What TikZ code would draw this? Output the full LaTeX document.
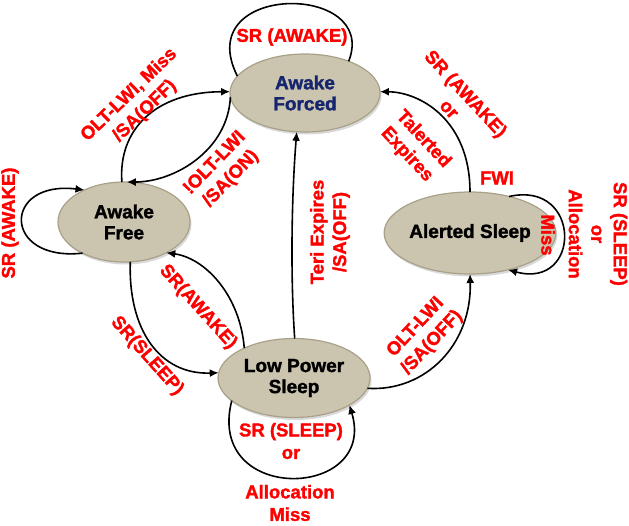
\documentclass[tikz,border=0pt]{standalone}
\usepackage{fontspec}
\setmainfont{Liberation Sans}[BoldFeatures={FakeBold=1.6}]
\usetikzlibrary{arrows.meta,shapes.geometric,shadows}
\definecolor{stf}{RGB}{203,197,175}
\definecolor{stb}{RGB}{168,160,136}
\definecolor{nvy}{RGB}{22,38,110}
\definecolor{lbl}{RGB}{255,0,0}

\begin{document}
\begin{tikzpicture}[x=1pt,y=1pt,
  state/.style={ellipse,draw=stb,line width=1.2pt,fill=stf,
    inner sep=0pt,outer sep=0pt,align=center,font=\fontsize{19}{21}\selectfont\bfseries,
    drop shadow={opacity=0.3,shadow xshift=1.5pt,shadow yshift=-2.5pt}},
  lab/.style={text=lbl,align=center,font=\fontsize{18.5}{22.5}\selectfont\bfseries,inner sep=0pt},
  arr/.style={line width=1.6pt,-{Latex[length=9pt,width=8pt]}}]
  \useasboundingbox (0,0) rectangle (629,-525);
  % states
  \node[state,minimum width=150pt,minimum height=78pt,text=nvy] (forced) at (305,-93) {Awake\\Forced};
  \node[state,minimum width=132pt,minimum height=80pt] (free) at (124,-222) {Awake\\Free};
  \node[state,minimum width=130pt,minimum height=82pt] (alerted) at (470,-233) {Alerted Sleep};
  \node[state,minimum width=152pt,minimum height=79pt] (lps) at (294,-378) {Low Power\\Sleep};
  % transitions
  \draw[line width=1.6pt] (forced.166) .. controls (190,18) and (380,18) .. (forced.36);
  \draw[arr] (free.93) .. controls (118,-130) and (155,-92) .. (forced.179);
  \draw[arr] (forced.183) .. controls (228,-150) and (175,-182) .. (free.86);
  \draw[arr] (free.217) .. controls (2,-262) and (2,-180) .. (free.141);
  \draw[arr] (free.279) .. controls (128,-330) and (160,-375) .. (lps.176);
  \draw[arr] (lps.149) .. controls (240,-295) and (205,-258) .. (free.324);
  \draw[arr] (lps.89) .. controls (290,-270) and (292,-190) .. (forced.258);
  \draw[arr] (alerted.90) .. controls (470,-120) and (420,-92) .. (forced.1);
  \draw[arr] (alerted.43) .. controls (582,-180) and (582,-290) .. (alerted.316);
  \draw[arr] (lps.352) .. controls (425,-392) and (472,-345) .. (alerted.270);
  \draw[arr] (lps.200) .. controls (205,-505) and (378,-500) .. (lps.334);
  % labels
  \node[lab] (l1) at (292,-37) {SR (AWAKE)};
  \node[lab,rotate=44] (l2) at (137,-103) {OLT-LWI, Miss\\/SA(OFF)};
  \node[lab,rotate=46] (l3) at (223,-171) {!OLT-LWI\\/SA(ON)};
  \node[lab,rotate=90] (l4) at (10,-223) {SR (AWAKE)};
  \node[lab,rotate=-48] (l5) at (198,-307) {SR(AWAKE)};
  \node[lab,rotate=-48] (l6) at (147,-356) {SR(SLEEP)};
  \node[lab,rotate=90] (l7) at (330,-232) {Teri Expires\\/SA(OFF)};
  \node[lab,rotate=-47] (l8) at (458,-101) {SR (AWAKE)\\or};
  \node[lab,rotate=-47] (l9) at (415,-147) {Talerted\\Expires};
  \node[lab] (l10) at (497,-178) {FWI};
  \node[lab,rotate=-90] (l11) at (548,-235) {Miss};
  \node[lab,rotate=-90] (l12) at (598,-234) {SR (SLEEP)\\or\\Allocation};
  \node[lab,rotate=47] (l13) at (424,-335) {OLT-LWI\\/SA(OFF)};
  \node[lab] (l14) at (291,-441) {SR (SLEEP)\\or};
  \node[lab] (l15) at (290,-503) {Allocation\\Miss};
\end{tikzpicture}
\end{document}
